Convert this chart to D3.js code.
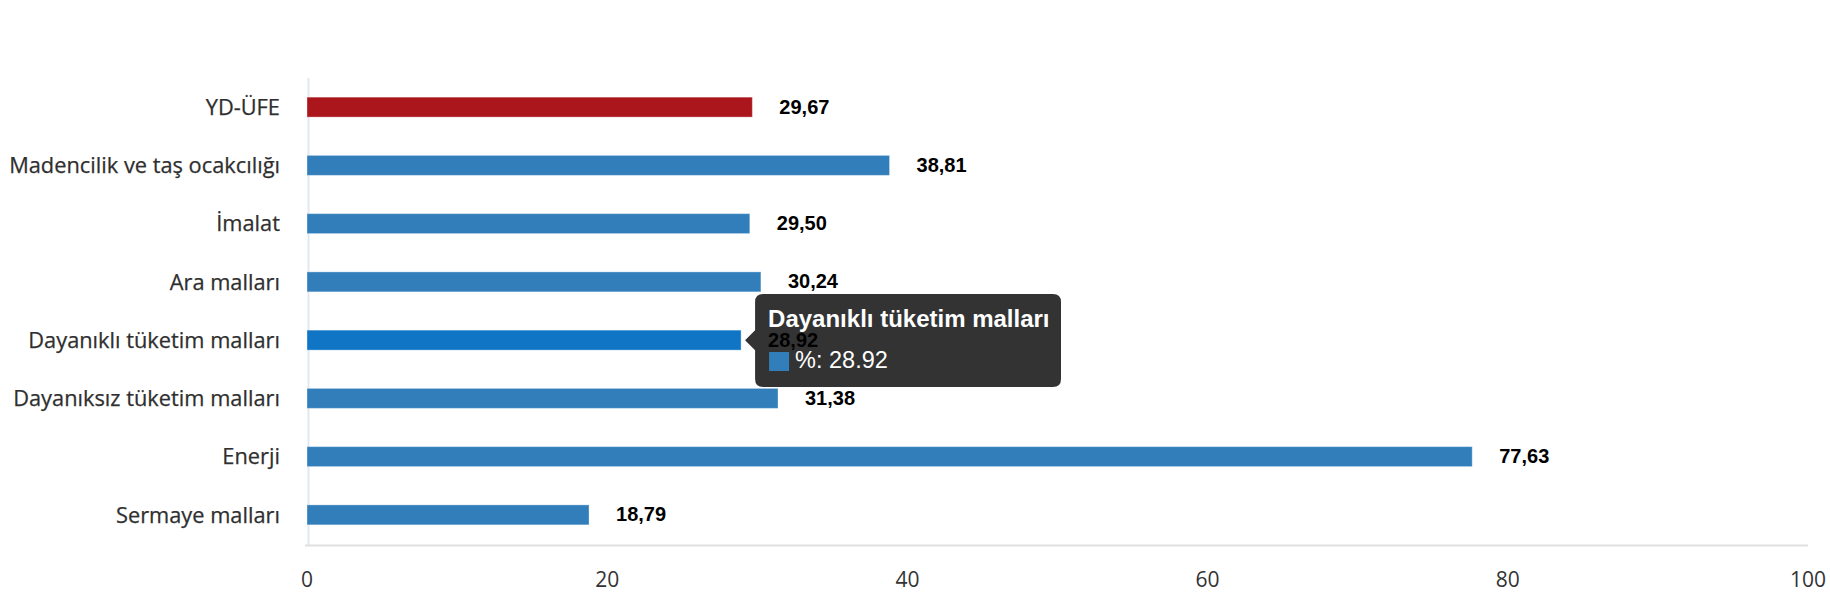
<!DOCTYPE html>
<html>
<head>
<meta charset="utf-8">
<script src="https://cdn.jsdelivr.net/npm/d3@7/dist/d3.min.js"></script>
<style>
  html, body { margin: 0; padding: 0; background: #fff; }
  svg { display: block; }
</style>
</head>
<body>
<svg id="chart" width="1830" height="600"></svg>
<script>
const categories = [
  "YD-ÜFE",
  "Madencilik ve taş ocakcılığı",
  "İmalat",
  "Ara malları",
  "Dayanıklı tüketim malları",
  "Dayanıksız tüketim malları",
  "Enerji",
  "Sermaye malları"
];
const values = [29.67, 38.81, 29.50, 30.24, 28.92, 31.38, 77.63, 18.79];
const xTicks = [0, 20, 40, 60, 80, 100];
const highlightIndex = 0;      // red bar
const hoverIndex = 4;          // hovered bar with tooltip
const seriesName = "%";

(function () {
const svg = d3.select("#chart");
const pLeft = 307, pRight = 1808, pTop = 78, pBottom = 544;

const x = d3.scaleLinear().domain([0, 100]).range([pLeft, pRight]);
const y = d3.scaleBand().domain(categories).range([pTop, pBottom])
  .paddingInner(0.657).paddingOuter(0.3285);

const data = categories.map((c, i) => ({ c, v: values[i], i }));

// y axis line
svg.append("line")
  .attr("x1", pLeft + 1.5).attr("x2", pLeft + 1.5)
  .attr("y1", pTop).attr("y2", pBottom + 2)
  .attr("stroke", "#e2e7ef").attr("stroke-width", 2);

// x axis line
svg.append("line")
  .attr("x1", pLeft - 2).attr("x2", pRight)
  .attr("y1", pBottom + 1.5).attr("y2", pBottom + 1.5)
  .attr("stroke", "#e0e0e0").attr("stroke-width", 2);

// x tick labels
svg.append("g").selectAll("text").data(xTicks).join("text")
  .attr("x", d => x(d))
  .attr("y", 587)
  .attr("text-anchor", "middle")
  .attr("font-family", "'Open Sans', 'Noto Sans', sans-serif")
  .attr("font-size", 21)
  .attr("fill", "#333")
  .text(d => d);

// category labels
svg.append("g").selectAll("text").data(data).join("text")
  .attr("x", 280)
  .attr("y", d => y(d.c) + y.bandwidth() / 2)
  .attr("dy", "0.36em")
  .attr("text-anchor", "end")
  .attr("font-family", "'Open Sans', 'Noto Sans', sans-serif")
  .attr("font-size", 21.8)
  .attr("fill", "#2f2f2f")
  .attr("stroke", "#2f2f2f")
  .attr("stroke-width", 0.25)
  .text(d => d.c);

// bars
const colorOf = d => d.i === highlightIndex ? "#ab161c" : (d.i === hoverIndex ? "#1075c4" : "#317ebb");
svg.append("g").selectAll("rect").data(data).join("rect")
  .attr("x", x(0))
  .attr("y", d => y(d.c))
  .attr("width", d => x(d.v) - x(0))
  .attr("height", y.bandwidth())
  .attr("fill", colorOf)
  .attr("stroke", "rgba(255,255,255,0.35)")
  .attr("stroke-width", 1);

// tooltip
const hd = data[hoverIndex];
const tipY = y(hd.c) + y.bandwidth() / 2;
const tx0 = x(hd.v) + 4, bx0 = tx0 + 10, bx1 = 1061, by0 = 294, by1 = 387, r = 8, ah = 10;
const tipPath = `M${bx0 + r},${by0} H${bx1 - r} Q${bx1},${by0} ${bx1},${by0 + r} V${by1 - r} Q${bx1},${by1} ${bx1 - r},${by1} H${bx0 + r} Q${bx0},${by1} ${bx0},${by1 - r} V${tipY + ah} L${tx0},${tipY} L${bx0},${tipY - ah} V${by0 + r} Q${bx0},${by0} ${bx0 + r},${by0} Z`;
const tip = svg.append("g");
tip.append("path").attr("d", tipPath).attr("fill", "#333333");
tip.append("text")
  .attr("x", bx0 + 13).attr("y", 327)
  .attr("font-family", "'Liberation Sans', Arial, sans-serif")
  .attr("font-weight", "bold").attr("font-size", 24)
  .attr("fill", "#fff").text(hd.c);
tip.append("rect")
  .attr("x", bx0 + 14).attr("y", 352).attr("width", 20).attr("height", 19)
  .attr("fill", "#317ebb");
tip.append("text")
  .attr("x", bx0 + 40).attr("y", 368)
  .attr("font-family", "'Liberation Sans', Arial, sans-serif")
  .attr("font-size", 23.5)
  .attr("fill", "#fff").text(`${seriesName}: ${hd.v.toFixed(2)}`);

// value labels (on top)
svg.append("g").selectAll("text").data(data).join("text")
  .attr("x", d => x(d.v) + 27)
  .attr("y", d => y(d.c) + y.bandwidth() / 2)
  .attr("dy", "0.32em")
  .attr("font-family", "'Liberation Sans', Arial, sans-serif")
  .attr("font-weight", "bold")
  .attr("font-size", 20)
  .attr("fill", "#000")
  .text(d => d.v.toFixed(2).replace(".", ","));
})();
</script>
</body>
</html>
